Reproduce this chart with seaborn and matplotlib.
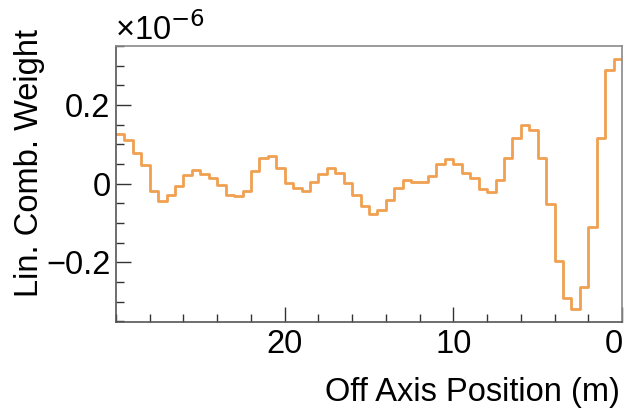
import numpy as np
import pandas as pd
import matplotlib
matplotlib.use("Agg")
import matplotlib.pyplot as plt
import seaborn as sns
from matplotlib.ticker import MultipleLocator
from matplotlib.transforms import ScaledTranslation

# Bin edges (m) and weights (units of 1e-6), bins ordered from 30 m down to 0 m
bin_edges_desc = np.arange(30.0, -0.01, -0.5)
weights_e6 = [
    0.126, 0.111, 0.078, 0.048, -0.018, -0.043, -0.028, -0.007, 0.022, 0.035,
    0.024, 0.013, -0.003, -0.028, -0.032, -0.018, 0.031, 0.064, 0.069, 0.040,
    0.002, -0.012, -0.020, 0.003, 0.024, 0.039, 0.027, 0.002, -0.030, -0.058,
    -0.077, -0.067, -0.041, -0.012, 0.008, 0.005, 0.005, 0.020, 0.051, 0.062,
    0.051, 0.026, 0.014, -0.014, -0.022, 0.009, 0.065, 0.116, 0.149, 0.136,
    0.065, -0.053, -0.197, -0.292, -0.320, -0.264, -0.111, 0.115, 0.290, 0.316,
]
x_label = "Off Axis Position (m)"
y_label = "Lin. Comb. Weight"
x_ticks = [0, 10, 20]
y_ticks = [-0.2, 0, 0.2]
y_tick_labels = ["\u22120.2", "0", "0.2"]

centers_desc = (bin_edges_desc[:-1] + bin_edges_desc[1:]) / 2
df = pd.DataFrame({"pos": centers_desc, "w": weights_e6})

sns.set_theme(style="white")
plt.rcParams['font.family'] = ['Liberation Sans', 'DejaVu Sans']
plt.rcParams['text.color'] = 'black'

FS = 23.5
fig = plt.figure(figsize=(6.26, 4.17), dpi=100)
ax = fig.add_axes([116/626, 1-322/417, (622-116)/626, (322-46)/417])

sns.histplot(data=df, x="pos", weights="w", binwidth=0.5,
             binrange=(float(bin_edges_desc.min()), float(bin_edges_desc.max())),
             element="step", fill=False, color="#F0A050", linewidth=2.0, ax=ax)

ax.set_xlim(30, 0)
ax.set_ylim(-0.352, 0.350)
ax.set_xlabel("")
ax.set_ylabel("")

ax.set_xticks(x_ticks)
ax.set_xticklabels([str(t) for t in x_ticks])
ax.xaxis.set_minor_locator(MultipleLocator(2))
ax.set_yticks(y_ticks)
ax.set_yticklabels(y_tick_labels)
ax.yaxis.set_minor_locator(MultipleLocator(0.05))

ax.tick_params(axis="both", which="major", direction="in", length=11, width=1,
               color="#333333", labelsize=FS, labelcolor="black",
               top=False, right=False, bottom=True, left=True)
ax.tick_params(axis="both", which="minor", direction="in", length=5.5, width=1,
               color="#333333", top=False, right=False, bottom=True, left=True)
ax.tick_params(axis="x", which="major", pad=5)
ax.tick_params(axis="y", which="major", pad=4)

# keep the "0" label at the right edge inside the figure
for lbl in ax.get_xticklabels():
    if lbl.get_text() == "0":
        lbl.set_horizontalalignment("right")
        lbl.set_transform(lbl.get_transform() + ScaledTranslation(1/100, 0, fig.dpi_scale_trans))

for name, sp in ax.spines.items():
    sp.set_visible(True)
    sp.set_linewidth(1.2)
    sp.set_color("#555555" if name in ("left", "bottom") else "#8a8a8a")

fig.text(620/626, 1-392/417, x_label, ha="right", va="center", fontsize=FS, color="black")
fig.text(30/626, 1-29/417, y_label, ha="center", va="top", rotation=90, fontsize=FS, color="black")
fig.text(115/626, 1-30/417, "\u00d710$^{\u22126}$", ha="left", va="center", fontsize=FS, color="black")

fig.savefig("out.png", dpi=100)
